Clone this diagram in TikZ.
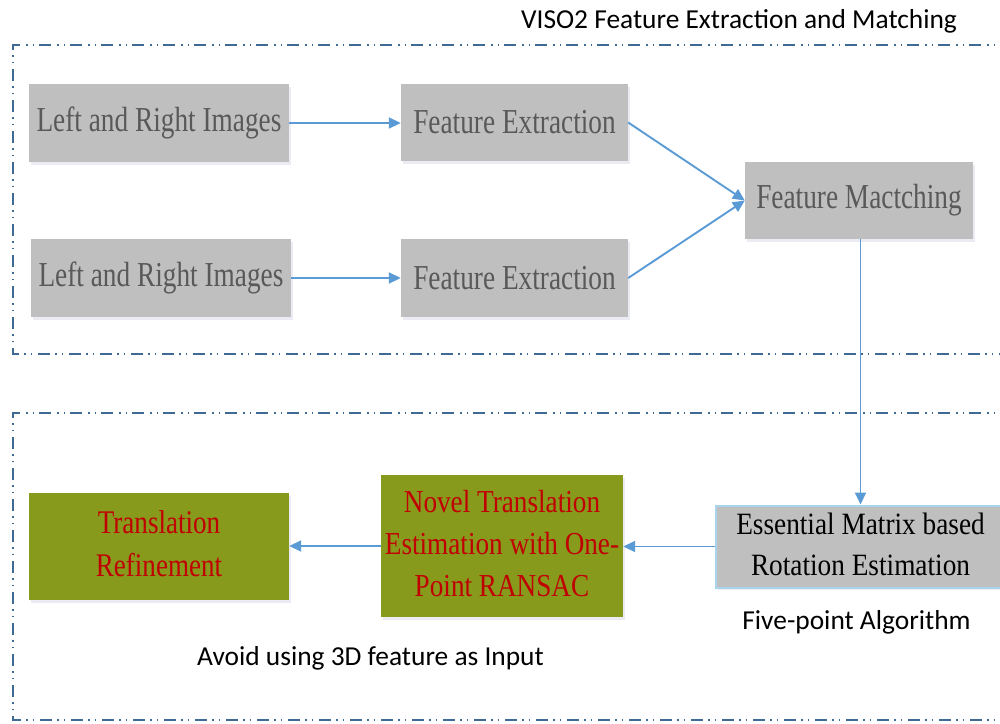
\documentclass[tikz,border=0pt]{standalone}
\usepackage{fontspec}
\setmainfont{Liberation Serif}
\newfontfamily\labelfont{Carlito}
\usepackage{graphicx}
\usetikzlibrary{arrows.meta,shadows}

\definecolor{boxgrey}{HTML}{BFBFBF}
\definecolor{greytext}{HTML}{595959}
\definecolor{olive}{HTML}{889A1C}
\definecolor{darkred}{HTML}{C00000}
\definecolor{flowblue}{HTML}{5B9BD5}
\definecolor{framecol}{HTML}{3F6A96}
\definecolor{edgecyan}{HTML}{A9D4EC}

% condensed serif text inside the boxes
\newcommand{\narrow}[2]{\scalebox{#1}[1]{#2}}
\newcommand{\lines}[1]{\begin{tabular}{@{}c@{}}#1\end{tabular}}

\tikzset{
  frame/.style={draw=framecol, line width=2.2pt,
    dash pattern=on 12pt off 5pt on 1.5pt off 5pt on 1.5pt off 6pt},
  soft/.style={drop shadow={shadow xshift=1.5pt, shadow yshift=-2.5pt,
    fill=black!60!blue, opacity=0.08}},
  greybox/.style={rectangle, fill=boxgrey, soft, inner sep=0pt,
    text=greytext, font=\fontsize{35}{40}\selectfont},
  olivebox/.style={rectangle, fill=olive, soft, inner sep=0pt,
    text=darkred, font=\fontsize{32}{42}\selectfont},
  flow/.style={draw=flowblue, line width=1.9pt,
    -{Triangle[length=12pt,width=11pt]}},
  caption/.style={font=\labelfont\fontsize{27.4}{31}\selectfont, text=black, inner sep=0pt}
}

\begin{document}
\begin{tikzpicture}[x=1pt, y=-1pt]
\useasboundingbox (0,0) rectangle (1000,723);

% dash-dot-dot group frames (open on the right)
\draw[frame] (1012,45) -- (13,45) -- (13,354) -- (1012,354);
\draw[frame] (1012,413) -- (13,413) -- (13,720) -- (1012,720);

\node[caption] (title) at (739,21) {VISO2 Feature Extraction and Matching};

% upper group: feature extraction and matching
\node[greybox, minimum width=260pt, minimum height=78pt] (lr1) at (159,123)
  {\narrow{0.78}{Left and Right Images}};
\node[greybox, minimum width=227pt, minimum height=77pt] (fe1) at (514.5,122.5)
  {\narrow{0.78}{Feature Extraction}};
\node[greybox, minimum width=260pt, minimum height=78pt] (lr2) at (161,278)
  {\narrow{0.78}{Left and Right Images}};
\node[greybox, minimum width=227pt, minimum height=78pt] (fe2) at (514.5,278)
  {\narrow{0.78}{Feature Extraction}};
\node[greybox, minimum width=228pt, minimum height=77pt] (fm) at (859,200.5)
  {\narrow{0.78}{Feature Mactching}};

% lower group: motion estimation
\node[rectangle, fill=boxgrey, draw=edgecyan, line width=2pt, soft, inner sep=0pt,
  minimum width=289pt, minimum height=77pt, text=black,
  font=\fontsize{31}{41}\selectfont] (em) at (860.5,546.5)
  {\narrow{0.88}{\lines{Essential Matrix based\\Rotation Estimation}}};
\node[olivebox, minimum width=242pt, minimum height=142pt] (nt) at (502,546)
  {\narrow{0.85}{\lines{Novel Translation\\Estimation with One-\\Point RANSAC}}};
\node[olivebox, minimum width=260pt, minimum height=107pt,
  font=\fontsize{33}{43}\selectfont] (tr) at (159,546.5)
  {\narrow{0.82}{\lines{Translation\\Refinement}}};

\node[caption] (fivept) at (856.5,622) {Five-point Algorithm};
\node[caption] (avoid) at (370.5,658) {Avoid using 3D feature as Input};

% connectors
\draw[flow] (lr1.east) -- (fe1.west |- lr1.east);
\draw[flow] (lr2.east) -- (fe2.west);
\draw[flow] (fe1.east) -- (fm.west);
\draw[flow] (fe2.east) -- (fm.west);
\draw[flow] (fm.south -| em.north) -- (em.north);
\draw[flow] (em.west) -- (nt.east |- em.west);
\draw[flow] (nt.west) -- (tr.east |- nt.west);
\end{tikzpicture}
\end{document}
